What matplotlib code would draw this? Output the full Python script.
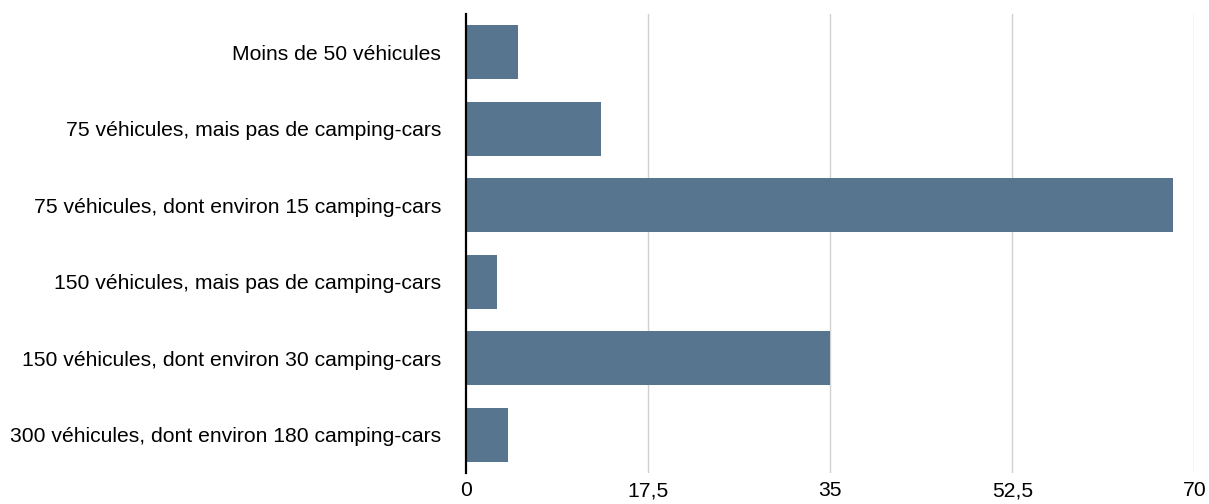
import matplotlib
matplotlib.use("Agg")
import matplotlib.pyplot as plt

categories = [
    "Moins de 50 véhicules",
    "75 véhicules, mais pas de camping-cars",
    "75 véhicules, dont environ 15 camping-cars",
    "150 véhicules, mais pas de camping-cars",
    "150 véhicules, dont environ 30 camping-cars",
    "300 véhicules, dont environ 180 camping-cars",
]
values = [5, 13, 68, 3, 35, 4]
xticks = [0, 17.5, 35, 52.5, 70]
xtick_labels = ["0", "17,5", "35", "52,5", "70"]

plt.rcParams['font.family'] = ['Liberation Sans', 'DejaVu Sans']

fig = plt.figure(figsize=(12.09, 5.04), dpi=100)
ax = fig.add_axes([466/1209, 1-473/504, (1194.3-466)/1209, (473-14)/504])

ypos = list(range(len(categories)))
ax.barh(ypos, values, height=0.70, color="#57758f", zorder=3)
ax.set_yticks(ypos)
ax.set_yticklabels(categories, fontsize=15.2)
ax.set_ylim(len(categories) - 0.5, -0.5)
ax.set_xlim(0, 70)
ax.set_xticks(xticks)
ax.set_xticklabels(xtick_labels, fontsize=15.2)
ax.tick_params(axis='both', length=0)
ax.tick_params(axis='x', pad=6)
ax.tick_params(axis='y', pad=18)

for x in xticks[1:]:
    ax.axvline(x, color="#d0d0d0", linewidth=1, zorder=1)

for s in ["top", "right", "bottom"]:
    ax.spines[s].set_visible(False)
ax.spines["left"].set_color("black")
ax.spines["left"].set_linewidth(1.6)
ax.spines["left"].set_zorder(4)

fig.savefig("out.png", dpi=100)
